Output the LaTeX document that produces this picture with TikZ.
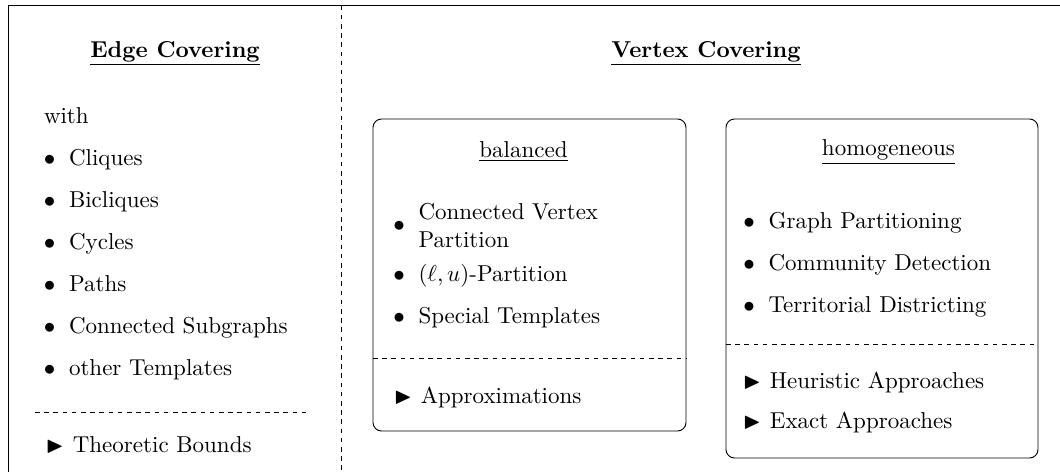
\documentclass[tikz,border=0pt]{standalone}
\usepackage{amssymb}
\usetikzlibrary{fit}
\newcommand{\myitem}[1]{$\bullet$\hspace{6pt}#1}
\newcommand{\myarrow}[1]{$\blacktriangleright$\hspace{3.9pt}#1}
\begin{document}
\begin{tikzpicture}[x=0.4348pt,y=-0.4348pt,
  lbl/.style={anchor=base west, inner sep=0pt, outer sep=0pt},
  head/.style={anchor=base, inner sep=0pt, font=\bfseries},
  sub/.style={anchor=base, inner sep=0pt},
  box/.style={draw, rounded corners=3.7pt, inner sep=0pt, outer sep=0pt},
  sep/.style={dash pattern=on 2pt off 2pt}]
\useasboundingbox (0,0) rectangle (1060,472);
\clip (0,0) rectangle (1060,472);
% outer frame (cut by the picture's right and bottom edges)
\node[draw, fit={(8.5,5.5) (1080,490)}, inner sep=0pt, outer sep=0pt] (frame) {};
\coordinate (divtop) at (341,5.5);
\coordinate (divbot) at (341,490);
\draw[sep] (divtop) -- (divbot);
% left column
\node[head] (ech) at (175,57) {\underline{Edge Covering}};
\node[lbl] (with) at (44,123) {with};
\node[lbl] (e1) at (43.75,165) {\myitem{Cliques}};
\node[lbl] (e2) at (43.75,207) {\myitem{Bicliques}};
\node[lbl] (e3) at (43.75,249) {\myitem{Cycles}};
\node[lbl] (e4) at (43.75,291) {\myitem{Paths}};
\node[lbl] (e5) at (43.75,333) {\myitem{Connected Subgraphs}};
\node[lbl] (e6) at (43.75,375) {\myitem{other Templates}};
\coordinate (el1) at (35,412);
\coordinate (el2) at (308,412);
\draw[sep] (el1) -- (el2);
\node[lbl] (etb) at (46,452) {\myarrow{Theoretic Bounds}};
% right column
\node[head] (vch) at (706,57) {\underline{Vertex Covering}};
% balanced box
\node[box, fit={(373,119) (686,431)}] (bal) {};
\node[sub] (balt) at (523.5,157) {\underline{balanced}};
\node[lbl] (b1) at (393.25,231) {\myitem{\parbox[c]{85pt}{Connected Vertex\\Partition}}};
\node[lbl] (b2) at (393.25,281) {\myitem{$(\ell,u)$-Partition}};
\node[lbl] (b3) at (393.25,323) {\myitem{Special Templates}};
\draw[sep] (bal.west |- 0,358) -- (bal.east |- 0,358);
\node[lbl] (ba) at (394,403) {\myarrow{Approximations}};
% homogeneous box
\node[box, fit={(726,119) (1038,458)}] (hom) {};
\node[sub] (homt) at (888.5,155) {\underline{homogeneous}};
\node[lbl] (h1) at (743.25,228) {\myitem{Graph Partitioning}};
\node[lbl] (h2) at (743.25,270) {\myitem{Community Detection}};
\node[lbl] (h3) at (743.25,312) {\myitem{Territorial Districting}};
\draw[sep] (hom.west |- 0,344) -- (hom.east |- 0,344);
\node[lbl] (ha) at (743,388) {\myarrow{Heuristic Approaches}};
\node[lbl] (hb) at (743,428) {\myarrow{Exact Approaches}};
\end{tikzpicture}
\end{document}
